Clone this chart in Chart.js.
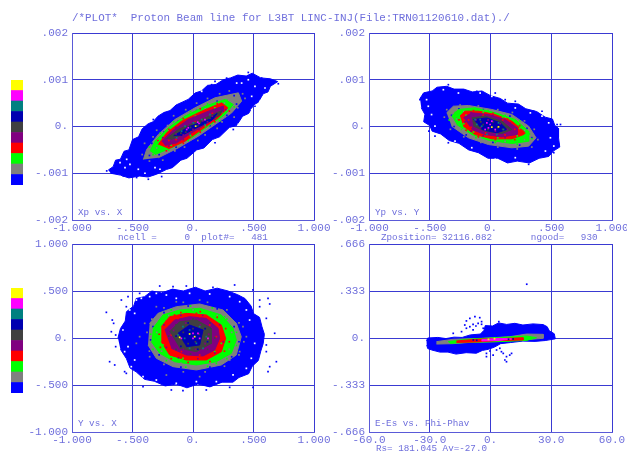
<!DOCTYPE html>
<html>
<head>
<meta charset="utf-8">
<script src="https://cdn.jsdelivr.net/npm/chart.js@4"></script>
<style>
html, body { margin: 0; padding: 0; background: #fff; overflow: hidden; }
#page { position: relative; width: 627px; height: 451px; overflow: hidden; }
canvas { position: absolute; }
.txt { position: absolute; white-space: pre; font-family: "Liberation Mono", monospace; color: #6f6fdc; line-height: 1; }
.big { font-size: 10.9px; }
.small { font-size: 9.25px; }
</style>
</head>
<body>
<div id="page">
  <canvas id="legendTop" width="12" height="105" style="left:11px;top:80px"></canvas>
  <canvas id="legendBottom" width="12" height="105" style="left:11px;top:288px"></canvas>
  <canvas id="xpx" width="324" height="217" style="left:12px;top:23px"></canvas>
  <canvas id="ypy" width="318" height="217" style="left:309px;top:23px"></canvas>
  <canvas id="yx" width="324" height="218" style="left:12px;top:234px"></canvas>
  <canvas id="ephi" width="318" height="218" style="left:309px;top:234px"></canvas>
  <div class="txt big" style="left:72px;top:13px">/*PLOT*  Proton Beam line for L3BT LINC-INJ(File:TRN01120610.dat)./</div>
  <div class="txt small" style="left:78px;top:208px">Xp vs. X</div>
  <div class="txt small" style="left:375px;top:208px">Yp vs. Y</div>
  <div class="txt small" style="left:78px;top:419px">Y vs. X</div>
  <div class="txt small" style="left:375px;top:419px">E-Es vs. Phi-Phav</div>
  <div class="txt small" style="left:118px;top:233px">ncell =     0  plot#=   481</div>
  <div class="txt small" style="left:381px;top:233px">Zposition= 32116.082       ngood=   930</div>
  <div class="txt small" style="left:376px;top:444px">Rs= 181.045 Av=-27.0</div>
</div>
<script>
// colour scale, bottom to top
const BLUE = '#0000ff', GRAY = '#808080', GREEN = '#00ff00', RED = '#ff0000', PURPLE = '#800080';
const DARK = '#404040', NAVY = '#0000b0', TEAL = '#008080', MAGENTA = '#ff00ff', YELLOW = '#ffff00';
const WHITE = '#ffffff';
const legendColors = [BLUE, GRAY, GREEN, RED, PURPLE, DARK, NAVY, TEAL, MAGENTA, YELLOW];
const legendSteps = [1, 1, 1, 1, 1, 1, 1, 1, 1, 1];

// tick values and labels
const unitTicks = [-1, -0.5, 0, 0.5, 1];
const unitLabels = ['-1.000', '-.500', '0.', '.500', '1.000'];
const mradTicks = [-2, -1, 0, 1, 2];   // y of the two top plots, in units of .001
const mradLabels = ['-.002', '-.001', '0.', '.001', '.002'];
const phiTicks = [-60, -30, 0, 30, 60];
const phiLabels = ['-60.0', '-30.0', '0.', '30.0', '60.0'];
const energyTicks = [-0.666, -0.333, 0, 0.333, 0.666];
const energyLabels = ['-.666', '-.333', '0.', '.333', '.666'];

// Xp vs. X : outlines and loose cells
const xpxBlue = [[-.70,-.93],[-.66,-.86],[-.64,-.72],[-.60,-.70],[-.57,-.53],[-.53,-.50],[-.50,-.28],[-.45,-.22],[-.42,-.05],[-.37,.06],[-.33,.10],[-.29,.22],[-.24,.30],[-.19,.34],[-.14,.46],[-.09,.52],[-.04,.58],[.02,.72],[.07,.76],[.12,.88],[.19,.90],[.25,1.0],[.31,1.04],[.37,1.10],[.44,1.08],[.49,1.14],[.56,1.04],[.64,1.02],[.70,.96],[.64,.86],[.62,.74],[.58,.70],[.54,.52],[.50,.46],[.46,.28],[.41,.22],[.36,.02],[.30,-.02],[.22,-.22],[.16,-.28],[.09,-.46],[.03,-.50],[-.05,-.68],[-.10,-.72],[-.17,-.88],[-.22,-.92],[-.30,-1.02],[-.37,-1.08],[-.44,-1.06],[-.53,-1.10],[-.60,-1.04],[-.68,-1.0]];
const xpxGray = [[-.410,-.706],[-.383,-.492],[-.287,-.172],[-.149,.150],[.017,.400],[.182,.614],[.375,.720],[.402,.542],[.320,.292],[.182,.042],[.044,-.206],[-.121,-.456],[-.287,-.670]];
const xpxGreen = [[-.355,-.528],[-.314,-.314],[-.204,-.028],[-.066,.222],[.099,.434],[.264,.578],[.333,.470],[.264,.256],[.127,.008],[-.011,-.242],[-.176,-.456],[-.314,-.598]];
const xpxRed = [[-.287,-.386],[-.218,-.136],[-.094,.114],[.072,.328],[.237,.506],[.287,.400],[.209,.186],[.072,-.064],[-.066,-.314],[-.204,-.478]];
const xpxPurple = [[-.259,-.314],[-.176,-.100],[-.039,.150],[.127,.328],[.251,.436],[.251,.328],[.127,.078],[-.011,-.136],[-.135,-.350],[-.231,-.406]];
const xpxDark = [[-.22,-.26],[-.12,-.06],[.03,.10],[.20,.30],[.24,.34],[.22,.24],[.08,.04],[-.06,-.14],[-.18,-.28]];
const xpxNavy = [[-.16,-.2],[-.03,.0],[.12,.14],[.2,.28],[.16,.14],[.02,-.04],[-.1,-.2]];
const xpxBlueDots = [[-.713,-.950],[-.672,-.986],[-.576,-1.057],[-.466,-1.092],[-.369,-1.128],[-.259,-1.071],[.278,1.035],[.375,1.071],[.457,1.156],[.567,1.035],[.705,.915],[.650,.965],[-.231,.291],[-.328,.149],[-.424,-.170],[.512,.433],[.567,.681],[.182,.965],[.154,.894],[-.025,-.596],[.182,-.348],[.333,-.064]];
const xpxWhiteDots = [[-.562,-.879],[-.521,-.809],[-.452,-.915],[-.314,-.879],[-.273,-.915],[-.397,-1.0],[-.603,-.773],[-.548,-.702],[.361,.929],[.457,1.0],[.512,.858],[.595,.823],[.402,.929],[.072,.752],[.209,-.312],[.375,.043],[.485,.362],[.554,.539],[.485,.645]];
const xpxGrayDots = [[-.42,-.60],[-.40,-.36],[-.33,-.22],[-.30,-.08],[-.21,.02],[-.16,.23],[-.06,.36],[.03,.50],[.12,.60],[.22,.70],[.30,.76],[.41,.70],[.43,.60],[.37,.40],[.34,.20],[.24,.10],[.20,-.04],[.10,-.18],[.04,-.30],[-.07,-.44],[-.15,-.52],[-.25,-.72],[-.36,-.74]];
const xpxBlueInner = [[-.36,-.62],[-.34,-.36],[-.24,-.12],[-.12,.12],[.03,.34],[.20,.54],[.34,.66],[.36,.48],[.28,.24],[.14,.02],[.0,-.20],[-.14,-.44],[-.28,-.60]];
const xpxGreenDots = [[-.36,-.44],[-.27,-.14],[-.16,.10],[-.02,.32],[.12,.48],[.28,.56],[.34,.42],[.22,.12],[.08,-.04],[-.04,-.30],[-.20,-.50],[-.33,-.60]];
const xpxGrayInner = [[-.30,-.46],[-.20,-.10],[-.05,.16],[.10,.38],[.26,.50],[.28,.36],[.14,.06],[0,-.18],[-.16,-.38]];
const xpxRedDots = [[-.29,-.30],[-.20,-.06],[-.08,.17],[.06,.38],[.20,.49],[.30,.33],[.18,.10],[.06,-.12],[-.08,-.36],[-.22,-.52]];
const xpxGreenInner = [[-.24,-.28],[-.12,-.02],[.02,.22],[.18,.40],[.24,.30],[.10,.02],[-.02,-.20],[-.18,-.40]];
const xpxPurpleDots = [[-.25,-.24],[-.14,-.02],[0,.18],[.16,.34],[.27,.36],[.18,.16],[.05,-.06],[-.08,-.28],[-.20,-.42]];
const xpxRedInner = [[-.20,-.30],[-.10,-.10],[.02,.10],[.16,.28],[.22,.30],[.10,.08],[-.02,-.10],[-.14,-.28]];
const xpxPurpleCore = [[-.14,-.16],[-.04,.02],[.08,.12],[.16,.22],[.12,.10],[.0,-.06],[-.08,-.18]];
const xpxDarkCore = [[-.10,-.14],[-.02,-.02],[.06,.08],[.14,.18],[.04,.02],[-.06,-.12]];
const xpxTealDots = [[-.094,-.099],[.003,.078],[.072,.149],[.140,.255],[-.066,.007],[-.025,-.170],[.099,.043],[-.135,-.241]];
const xpxMagentaDots = [[-.039,-.028],[.039,.092],[.050,.064],[.099,.149],[-.052,-.064]];
const xpxYellowDots = [[.022,.007]];

// Yp vs. Y
const ypyBlue = [[-.58,.60],[-.55,.72],[-.48,.76],[-.44,.84],[-.36,.86],[-.30,.80],[-.22,.80],[-.15,.74],[-.07,.76],[0,.66],[.08,.60],[.14,.50],[.23,.48],[.29,.38],[.38,.32],[.45,.20],[.51,.16],[.53,.02],[.56,-.04],[.56,-.24],[.57,-.44],[.52,-.52],[.48,-.64],[.40,-.68],[.32,-.78],[.22,-.74],[.14,-.78],[.06,-.68],[-.02,-.68],[-.10,-.56],[-.18,-.50],[-.26,-.36],[-.34,-.30],[-.41,-.16],[-.48,-.10],[-.50,.02],[-.55,.10],[-.54,.26],[-.57,.40]];
const ypyGray = [[-.361,.292],[-.306,.434],[-.182,.450],[.011,.364],[.176,.256],[.314,.008],[.375,-.242],[.314,-.420],[.176,-.456],[-.017,-.386],[-.182,-.242],[-.320,.008]];
const ypyGreen = [[-.320,.222],[-.264,.364],[-.127,.400],[.039,.292],[.204,.150],[.314,-.100],[.314,-.314],[.176,-.364],[-.017,-.292],[-.154,-.172],[-.278,.042]];
const ypyRed = [[-.251,.222],[-.209,.328],[-.099,.328],[.039,.256],[.176,.114],[.273,-.100],[.273,-.172],[.176,-.264],[.011,-.264],[-.127,-.172],[-.223,.008]];
const ypyPurple = [[-.223,.186],[-.154,.292],[-.017,.256],[.121,.150],[.218,-.028],[.218,-.172],[.094,-.222],[-.044,-.172],[-.154,-.064]];
const ypyDark = [[-.154,.186],[-.044,.222],[.094,.114],[.176,-.064],[.094,-.150],[-.044,-.100],[-.140,.008]];
const ypyNavy = [[-.140,.149],[-.030,.184],[.080,.078],[.135,-.064],[.052,-.135],[-.072,-.064]];
const ypyBlueDots = [[-.573,.589],[-.554,.681],[-.581,.574],[-.507,-.099],[-.347,-.348],[.548,.043],[.576,.043],[.548,-.277],[.521,-.560],[.562,-.383],[.424,.326],[.355,.326],[.204,.539],[.121,.574],[.039,.716],[-.113,.752],[-.347,.894],[-.457,-.206],[.314,-.809]];
const ypyWhiteDots = [[-.526,.574],[-.512,.433],[-.485,.255],[-.388,.787],[-.264,.716],[-.085,.716],[.011,.645],[.204,.397],[.328,.291],[.424,.220],[.479,.078],[.493,-.241],[.521,-.418],[.452,-.525],[.039,-.702],[.204,-.667],[-.292,-.312],[-.154,-.454],[-.457,.007]];
const ypyGrayDots = [[-.38,.20],[-.36,.36],[-.25,.46],[-.10,.44],[.06,.36],[.18,.30],[.28,.12],[.36,-.06],[.39,-.28],[.34,-.44],[.22,-.48],[.06,-.44],[-.08,-.34],[-.22,-.22],[-.33,-.06]];
const ypyBlueInner = [[-.32,.24],[-.26,.38],[-.06,.36],[.16,.22],[.30,-.04],[.34,-.24],[.24,-.40],[.02,-.34],[-.20,-.18],[-.30,.0]];
const ypyGreenDots = [[-.34,.14],[-.29,.30],[-.18,.38],[-.02,.34],[.12,.24],[.24,.12],[.32,-.16],[.34,-.26],[.22,-.38],[.04,-.34],[-.12,-.24],[-.24,-.06]];
const ypyGrayInner = [[-.28,.16],[-.22,.32],[-.06,.32],[.12,.18],[.28,-.08],[.28,-.28],[.12,-.32],[-.08,-.22],[-.22,-.06]];
const ypyRedDots = [[-.26,.14],[-.22,.26],[-.14,.34],[.02,.28],[.14,.16],[.24,.02],[.28,-.14],[.20,-.28],[.04,-.28],[-.10,-.22],[-.20,-.08]];
const ypyGreenInner = [[-.20,.24],[-.06,.30],[.10,.18],[.24,-.04],[.22,-.20],[.06,-.24],[-.14,-.12],[-.22,.06]];
const ypyPurpleDots = [[-.21,.10],[-.16,.30],[.02,.24],[.16,.08],[.22,-.12],[.12,-.24],[-.06,-.20],[-.16,-.10]];
const ypyRedInner = [[-.18,.14],[-.06,.24],[.10,.14],[.20,-.06],[.12,-.18],[-.04,-.14],[-.16,-.02]];
const ypyPurpleCore = [[-.12,.14],[-.02,.14],[.08,.06],[.14,-.06],[.04,-.10],[-.08,-.02]];
const ypyDarkCore = [[-.08,.10],[.02,.10],[.06,-.02],[-.02,-.06],[.10,-.06],[-.06,.04]];
const ypyTealDots = [[-.085,.149],[-.113,.043],[.066,.078],[.107,-.064],[.052,-.170],[-.072,.007],[-.030,-.170],[-.127,.149]];
const ypyMagentaDots = [[-.030,.078],[.011,.113],[.039,-.064],[-.044,-.064],[-.017,-.028],[-.003,.043]];
const ypyYellowDots = [[.011,-.014],[.066,-.007]];

// Y vs. X
const yxBlue = [[-.62,0],[-.60,.10],[-.56,.18],[-.55,.28],[-.49,.34],[-.47,.42],[-.40,.44],[-.34,.50],[-.26,.48],[-.17,.52],[-.08,.50],[.02,.54],[.10,.50],[.20,.53],[.29,.50],[.37,.46],[.43,.42],[.48,.34],[.50,.26],[.55,.22],[.57,.12],[.59,.04],[.58,-.06],[.56,-.14],[.54,-.24],[.49,-.30],[.46,-.38],[.38,-.42],[.33,-.47],[.24,-.47],[.14,-.52],[.04,-.49],[-.05,-.53],[-.14,-.49],[-.23,-.51],[-.32,-.46],[-.40,-.44],[-.47,-.36],[-.52,-.32],[-.55,-.22],[-.60,-.12]];
const yxGray = [[-.358,.156],[-.289,.262],[-.138,.333],[.055,.362],[.248,.298],[.358,.156],[.399,.014],[.358,-.181],[.234,-.287],[.028,-.340],[-.165,-.305],[-.303,-.216],[-.372,-.074]];
const yxGreen = [[-.331,.103],[-.248,.245],[-.110,.298],[.055,.316],[.234,.245],[.331,.103],[.358,-.021],[.317,-.163],[.193,-.252],[.028,-.287],[-.152,-.252],[-.275,-.163],[-.344,-.039]];
const yxRed = [[-.262,.121],[-.193,.227],[-.055,.262],[.110,.245],[.234,.138],[.270,-.004],[.234,-.145],[.110,-.234],[-.055,-.234],[-.193,-.181],[-.262,-.039]];
const yxPurple = [[-.234,.085],[-.152,.191],[-.028,.227],[.110,.209],[.207,.103],[.220,-.004],[.179,-.128],[.083,-.191],[-.055,-.181],[-.179,-.110]];
const yxDark = [[-.193,.067],[-.110,.174],[.028,.191],[.152,.103],[.152,-.057],[.028,-.145],[-.110,-.110]];
const yxNavy = [[-.124,.050],[-.028,.138],[.083,.085],[.055,-.074],[-.055,-.092]];
const yxBlueDots = [[-.716,.273],[-.667,.191],[-.656,.156],[-.675,.067],[-.639,.032],[-.639,-.092],[-.689,-.252],[-.647,-.287],[-.592,.404],[-.537,.440],[-.551,.333],[-.565,-.358],[-.551,-.376],[-.413,-.518],[-.179,-.553],[-.083,-.560],[.110,-.553],[.303,-.525],[.496,-.525],[.620,.422],[.634,.362],[.551,.404],[.551,.333],[.606,.209],[.675,.050],[.606,-.074],[.606,-.145],[.689,-.252],[.634,-.305],[.620,-.358],[-.275,.553],[-.165,.546],[-.055,.553],[.165,.539],[.344,.564],[.496,.511],[-.441,.475]];
const yxWhiteDots = [[-.468,.404],[-.427,.422],[-.358,.440],[-.303,.475],[-.220,.457],[-.138,.422],[-.482,.262],[-.523,.298],[-.579,.085],[-.537,-.092],[-.565,-.145],[-.482,-.234],[-.510,-.305],[-.413,-.411],[-.303,-.447],[-.138,-.482],[.028,-.464],[.193,-.464],[.331,-.393],[.441,-.323],[.482,-.216],[.510,-.057],[.468,.191],[.441,.298],[.386,.386],[.303,.440],[.138,.468],[-.028,.475]];
const yxGrayDots = [[-.399,.156],[-.441,.014],[.441,.014],[.413,.121],[-.358,-.199],[-.303,.333],[-.138,.386],[.055,.404],[.303,-.234],[.386,-.145],[-.468,-.057],[-.220,-.394],[.055,-.411],[-.38,.06],[-.34,.20],[-.24,.32],[-.08,.38],[.12,.38],[.28,.30],[.38,.16],[.42,-.04],[.38,-.18],[.26,-.30],[.10,-.36],[-.08,-.36],[-.24,-.28],[-.36,-.14]];
const yxBlueInner = [[-.33,.12],[-.24,.27],[-.04,.34],[.20,.31],[.34,.12],[.38,-.04],[.32,-.20],[.14,-.31],[-.10,-.31],[-.28,-.18],[-.35,-.02]];
const yxGreenDots = [[-.35,.04],[-.28,.18],[-.18,.30],[-.02,.34],[.16,.32],[.28,.20],[.36,.06],[.36,-.08],[.28,-.22],[.12,-.30],[-.06,-.31],[-.22,-.24],[-.33,-.12]];
const yxGrayInner = [[-.30,.06],[-.20,.24],[.0,.30],[.20,.24],[.32,.06],[.30,-.12],[.14,-.26],[-.10,-.27],[-.26,-.14]];
const yxRedOuter = [[-.28,.04],[-.22,.18],[-.10,.27],[.06,.28],[.20,.22],[.27,.10],[.30,-.04],[.26,-.14],[.14,-.25],[-.04,-.26],[-.18,-.22],[-.27,-.10]];
const yxGreenInner = [[-.289,.085],[-.179,.298],[.262,.227],[.317,-.092],[.193,-.270],[-.083,-.216],[-.248,-.074],[.234,-.057],[-.014,.298],[.179,-.145]];
const yxPurpleDots = [[-.24,.14],[-.10,.24],[.08,.24],[.22,.14],[.25,-.04],[.18,-.16],[.04,-.22],[-.12,-.21],[-.22,-.10]];
const yxRedInner = [[-.124,.209],[.055,.227],[-.179,.032],[.193,.014],[.055,-.181],[-.096,-.145],[.138,.138],[-.220,-.021],[.028,.262],[-.152,.245]];
const yxDarkDots = [[-.20,.02],[-.14,.14],[.0,.20],[.14,.16],[.18,.0],[.12,-.12],[-.02,-.17],[-.14,-.12]];
const yxPurpleCore = [[-.16,.08],[-.06,.16],[.06,.14],[.13,.04],[.10,-.06],[.02,-.12],[-.08,-.12]];
const yxDarkCore = [[-.08,.06],[0,.10],[.05,.04],[.02,-.04],[-.04,-.06]];
const yxNavyDots = [[-.14,.02],[.10,.10],[.12,-.04],[-.04,.16],[-.10,-.09],[.04,-.12]];
const yxTealDots = [[-.124,.032],[-.069,-.004],[-.028,.085],[.028,-.057],[.110,.014],[.055,.121],[-.083,.121],[-.028,-.110],[.083,-.110]];
const yxMagentaDots = [[0,.050],[.041,.050],[.055,-.004],[0,-.004],[-.096,-.004],[.124,-.004]];
const yxYellowDots = [[-.028,.043],[-.110,.007],[.014,.014]];

// E-Es vs. Phi-Phav
const ephiBlue = [[-31.6,-.02],[-31,.0],[-26,.004],[-22,-.004],[-18,.006],[-14,.004],[-10,.022],[-5,.028],[-3.2,.055],[-2.6,.088],[1,.085],[4,.107],[8,.096],[12,.104],[16,.092],[21,.1],[26,.095],[28,.08],[29,.052],[31.5,.03],[32,-.006],[27,-.018],[22,-.024],[16,-.022],[10,-.032],[5,-.04],[2,-.064],[-1,-.08],[-4,-.088],[-7,-.108],[-12,-.104],[-17,-.114],[-21,-.1],[-25,-.1],[-29,-.085],[-31,-.075],[-31.5,-.05]];
const ephiGray = [[-26.7,-.026],[-18.4,-.009],[-3.6,-.002],[9.5,.009],[17.8,.028],[26.0,.026],[26.0,-.002],[16.1,-.014],[3.0,-.026],[-10.2,-.031],[-18.4,-.040],[-26.7,-.043]];
const ephiGreen = [[-20.9,-.026],[-11.9,-.009],[3.0,.002],[17.8,.014],[22.7,.002],[17.8,-.017],[3.0,-.026],[-11.9,-.031],[-20.1,-.038]];
const ephiRed = [[-16.8,-.021],[-6.9,-.009],[3.0,-.005],[16.1,.002],[16.1,-.014],[3.0,-.019],[-6.9,-.028],[-16.8,-.031]];
const ephiMagenta = [[-4.4,-.012],[4.6,-.002],[10.4,-.007],[4.6,-.017],[-4.4,-.021]];
const ephiBlueDots = [[-7.7,.151],[-5.3,.144],[-10.2,.139],[-11.9,.121],[-4.4,.116],[-4.4,.097],[-6.1,.104],[-8.6,.097],[-7.2,.085],[-12.7,.092],[-10.2,.080],[-11.9,.069],[-18.4,.033],[-14.3,.045],[-8.6,.057],[-3.6,.069],[4.1,.116],[17.9,.381],[-2.0,-.132],[3.0,-.085],[6.3,-.109],[7.9,-.132],[7.1,-.156],[7.9,-.168],[9.5,-.121],[10.4,-.109],[4.6,-.073],[5.4,-.097],[-2.0,-.109],[-.3,-.092],[1.3,-.121]];
const ephiNavyDots = [[-8.5,-.014],[-6.8,-.016],[8.9,-.009],[11.2,-.007]];
const ephiYellowDots = [[-1,-.01],[2,-.005]];

const toPoints = pairs => pairs.map(p => ({ x: p[0], y: p[1] }));

function blob(pairs, color) {
    return {
        data: toPoints(pairs), showLine: true, fill: 'shape',
        backgroundColor: color, borderColor: color, borderWidth: 1, pointRadius: 0
    };
}

function dots(pairs, color) {
    return {
        data: toPoints(pairs), showLine: false, pointStyle: 'rect',
        pointRadius: 1.2, pointBackgroundColor: color, pointBorderWidth: 0
    };
}

function makeAxis(ticks, labels, position) {
    const vertical = position === 'left';
    return {
        type: 'linear', position: position,
        min: ticks[0], max: ticks[ticks.length - 1],
        afterBuildTicks: axis => { axis.ticks = ticks.map(v => ({ value: v })); },
        afterFit: axis => {
            if (vertical) axis.width = 60; else axis.height = 20;
            axis.paddingLeft = axis.paddingRight = axis.paddingTop = axis.paddingBottom = 0;
        },
        grid: { color: '#3a3ad2', lineWidth: 1, drawTicks: false },
        border: { color: '#5a5ad8', width: 1 },
        ticks: {
            autoSkip: false, maxRotation: 0, padding: vertical ? 4 : 1,
            color: '#6f6fdc',
            font: { family: '"Liberation Mono", monospace', size: 11 },
            callback: (v, i) => labels[i]
        }
    };
}

function makePlot(id, xTicks, xLabels, yTicks, yLabels, rightPad, layers) {
    // chart.js paints the first dataset on top, layers are listed bottom first
    new Chart(document.getElementById(id), {
        type: 'scatter',
        data: { datasets: layers.slice().reverse() },
        options: {
            responsive: false, animation: false,
            layout: { autoPadding: false, padding: { top: 10, right: rightPad, bottom: 0, left: 0 } },
            plugins: { legend: { display: false }, title: { display: false }, tooltip: { enabled: false } },
            scales: {
                x: makeAxis(xTicks, xLabels, 'bottom'),
                y: makeAxis(yTicks, yLabels, 'left')
            }
        }
    });
}

function makeLegend(id) {
    new Chart(document.getElementById(id), {
        type: 'bar',
        data: {
            labels: [''],
            datasets: legendColors.map((c, i) => ({
                data: [legendSteps[i]], backgroundColor: c,
                barPercentage: 1, categoryPercentage: 1
            }))
        },
        options: {
            responsive: false, animation: false,
            plugins: { legend: { display: false }, tooltip: { enabled: false } },
            scales: {
                x: { display: false, stacked: true },
                y: { display: false, stacked: true, min: 0, max: 10 }
            }
        }
    });
}

makeLegend('legendTop');
makeLegend('legendBottom');

makePlot('xpx', unitTicks, unitLabels, mradTicks, mradLabels, 22, [
    blob(xpxBlue, BLUE), dots(xpxBlueDots, BLUE), dots(xpxWhiteDots, WHITE), dots(xpxGrayDots, GRAY),
    blob(xpxGray, GRAY), dots(xpxBlueInner, BLUE), dots(xpxGreenDots, GREEN),
    blob(xpxGreen, GREEN), dots(xpxGrayInner, GRAY), dots(xpxRedDots, RED),
    blob(xpxRed, RED), dots(xpxGreenInner, GREEN), dots(xpxPurpleDots, PURPLE),
    blob(xpxPurple, PURPLE), dots(xpxRedInner, RED),
    blob(xpxDark, DARK), blob(xpxNavy, NAVY), dots(xpxPurpleCore, PURPLE), dots(xpxDarkCore, DARK),
    dots(xpxTealDots, TEAL), dots(xpxMagentaDots, MAGENTA), dots(xpxYellowDots, YELLOW)
]);
makePlot('ypy', unitTicks, unitLabels, mradTicks, mradLabels, 15, [
    blob(ypyBlue, BLUE), dots(ypyBlueDots, BLUE), dots(ypyWhiteDots, WHITE), dots(ypyGrayDots, GRAY),
    blob(ypyGray, GRAY), dots(ypyBlueInner, BLUE), dots(ypyGreenDots, GREEN),
    blob(ypyGreen, GREEN), dots(ypyGrayInner, GRAY), dots(ypyRedDots, RED),
    blob(ypyRed, RED), dots(ypyGreenInner, GREEN), dots(ypyPurpleDots, PURPLE),
    blob(ypyPurple, PURPLE), dots(ypyRedInner, RED),
    blob(ypyDark, DARK), blob(ypyNavy, NAVY), dots(ypyPurpleCore, PURPLE), dots(ypyDarkCore, DARK),
    dots(ypyTealDots, TEAL), dots(ypyMagentaDots, MAGENTA), dots(ypyYellowDots, YELLOW)
]);
makePlot('yx', unitTicks, unitLabels, unitTicks, unitLabels, 22, [
    blob(yxBlue, BLUE), dots(yxBlueDots, BLUE), dots(yxWhiteDots, WHITE), dots(yxGrayDots, GRAY),
    blob(yxGray, GRAY), dots(yxBlueInner, BLUE), dots(yxGreenDots, GREEN),
    blob(yxGreen, GREEN), dots(yxGrayInner, GRAY), dots(yxRedOuter, RED),
    blob(yxRed, RED), dots(yxGreenInner, GREEN), dots(yxPurpleDots, PURPLE),
    blob(yxPurple, PURPLE), dots(yxRedInner, RED), dots(yxDarkDots, DARK),
    blob(yxDark, DARK), blob(yxNavy, NAVY), dots(yxPurpleCore, PURPLE), dots(yxDarkCore, DARK), dots(yxNavyDots, NAVY),
    dots(yxTealDots, TEAL), dots(yxMagentaDots, MAGENTA), dots(yxYellowDots, YELLOW)
]);
makePlot('ephi', phiTicks, phiLabels, energyTicks, energyLabels, 15, [
    blob(ephiBlue, BLUE), dots(ephiBlueDots, BLUE),
    blob(ephiGray, GRAY), blob(ephiGreen, GREEN), blob(ephiRed, RED), blob(ephiMagenta, MAGENTA),
    dots(ephiNavyDots, NAVY), dots(ephiYellowDots, YELLOW)
]);
</script>
</body>
</html>
